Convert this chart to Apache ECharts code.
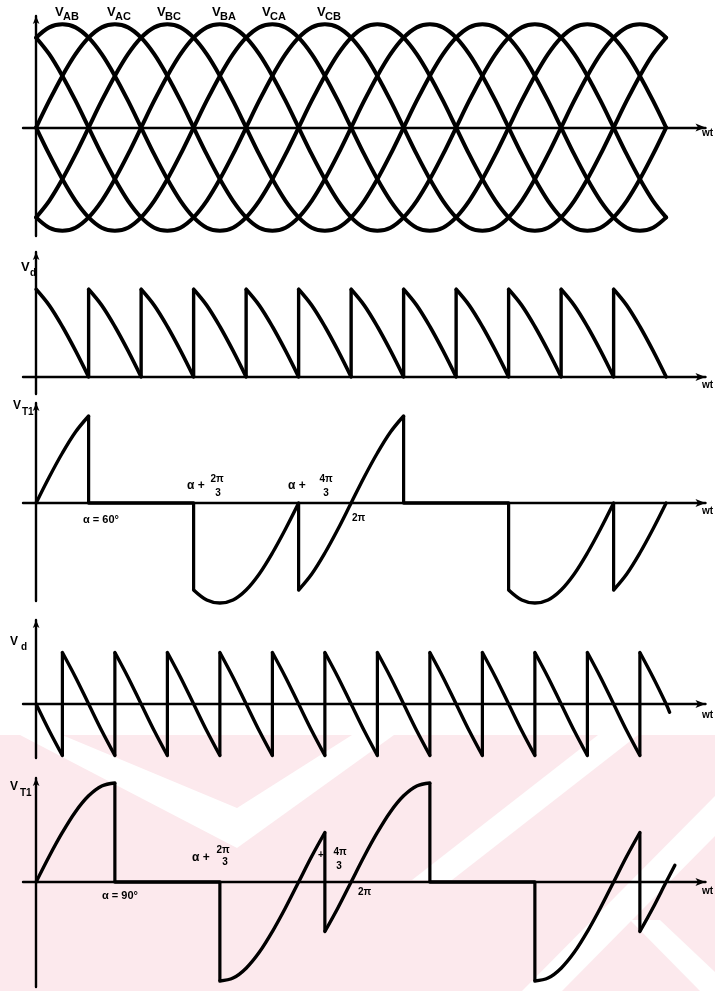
<!DOCTYPE html>
<html>
<head>
<meta charset="utf-8">
<script src="https://cdn.jsdelivr.net/npm/echarts@6/dist/echarts.min.js"></script>
<style>
html, body { margin: 0; padding: 0; background: #fff; }
#chart { width: 715px; height: 991px; }
</style>
</head>
<body>
<div id="chart"></div>
<script>
// Angles are electrical degrees of ωt; voltages are % of the line-voltage peak.
const STEP = 15;

// Line-to-line voltage over one cycle, every 15°, starting at a rising zero crossing
const lineCycle = [0, 26, 50, 71, 87, 97, 100, 97, 87, 71, 50, 26, 0, -26, -50, -71, -87, -97, -100, -97, -87, -71, -50, -26];
const phaseNames = ['AB', 'AC', 'BC', 'BA', 'CA', 'CB'];
const phaseRiseAngle = [-60, 0, 60, 120, 180, 240];
const sweepAngles = [0, 720];

// Output voltage vd, α = 60°: one 60° piece after every firing
const vd60Firing = [0, 60, 120, 180, 240, 300, 360, 420, 480, 540, 600, 660];
const vd60Piece = [87, 71, 50, 26, 0];

// Output voltage vd, α = 90°
const vd90Firing = [30, 90, 150, 210, 270, 330, 390, 450, 510, 570, 630, 690];
const vd90Piece = [50, 26, 0, -26, -50];
const vd90Head = [[0, 0], [15, -26], [30, -50]];
const vd90Tail = [[690, 50], [705, 26], [720, 0], [724, -8]];

// Thyristor T1 voltage, α = 60°
const vt1Alpha60 = [
  [[0, 0], [15, 26], [30, 50], [45, 71], [60, 87]],
  [[60, 0], [180, 0]],
  [[180, -87], [195, -97], [210, -100], [225, -97], [240, -87], [255, -71], [270, -50], [285, -26], [300, 0]],
  [[300, -87], [315, -71], [330, -50], [345, -26], [360, 0], [375, 26], [390, 50], [405, 71], [420, 87]],
  [[420, 0], [540, 0]],
  [[540, -87], [555, -97], [570, -100], [585, -97], [600, -87], [615, -71], [630, -50], [645, -26], [660, 0]],
  [[660, -87], [675, -71], [690, -50], [705, -26], [720, 0]]
];

// Thyristor T1 voltage, α = 90°
const vt1Alpha90 = [
  [[0, 0], [15, 26], [30, 50], [45, 71], [60, 87], [75, 97], [90, 100]],
  [[90, 0], [210, 0]],
  [[210, -100], [225, -97], [240, -87], [255, -71], [270, -50], [285, -26], [300, 0], [315, 26], [330, 50]],
  [[330, -50], [345, -26], [360, 0], [375, 26], [390, 50], [405, 71], [420, 87], [435, 97], [450, 100]],
  [[450, 0], [570, 0]],
  [[570, -100], [585, -97], [600, -87], [615, -71], [630, -50], [645, -26], [660, 0], [675, 26], [690, 50]],
  [[690, -50], [705, -26], [720, 0], [730, 17]]
];

// Panel frames: pixel box of each axis pair and value range of its y axis
const panels = [
  { top: 16,  height: 220, yMin: -105, yMax: 108 },
  { top: 252, height: 142, yMin: -17,  yMax: 124 },
  { top: 403, height: 198, yMin: -98,  yMax: 100 },
  { top: 620, height: 138, yMin: -52.4, yMax: 81.6 },
  { top: 778, height: 209, yMin: -106, yMax: 105 }
];
const X_MIN = -15, X_MAX = 765;

function cycleCurve(rise) {
  const pts = [];
  for (let a = sweepAngles[0]; a <= sweepAngles[1]; a += STEP) {
    const k = (((a - rise) / STEP) % lineCycle.length + lineCycle.length) % lineCycle.length;
    pts.push([a, lineCycle[k]]);
  }
  return pts;
}
function piecesFromShape(firing, shape) {
  return firing.map(f => shape.map((v, i) => [f + i * STEP, v]));
}
function jumpsBetween(pieces) {
  const out = [];
  for (let i = 0; i + 1 < pieces.length; i++) {
    const a = pieces[i][pieces[i].length - 1], b = pieces[i + 1][0];
    if (a[0] === b[0] && a[1] !== b[1]) out.push([a, b]);
  }
  return out;
}

const series = [];
function addCurve(panel, data, width) {
  series.push({
    type: 'line', xAxisIndex: panel, yAxisIndex: panel, data,
    symbol: 'none', smooth: 0.35, clip: false, silent: true,
    lineStyle: { color: '#000', width, cap: 'round', join: 'round' }
  });
}
function addEdge(panel, data, width) {
  series.push({
    type: 'line', xAxisIndex: panel, yAxisIndex: panel, data,
    symbol: 'none', smooth: false, clip: false, silent: true,
    lineStyle: { color: '#000', width, cap: 'butt' }
  });
}

// Panel 0: the six line voltages
phaseRiseAngle.forEach(r => addCurve(0, cycleCurve(r), 4));

// Panel 1: vd at α = 60°
const vd60 = piecesFromShape(vd60Firing, vd60Piece);
vd60.forEach(p => addCurve(1, p, 3.6));
vd60Firing.slice(1).forEach(f => addEdge(1, [[f, 0], [f, vd60Piece[0]]], 3.4));

// Panel 2: T1 voltage at α = 60°
vt1Alpha60.forEach(p => addCurve(2, p, 3.4));
jumpsBetween(vt1Alpha60).forEach(j => addEdge(2, j, 3.2));

// Panel 3: vd at α = 90°
const vd90 = [vd90Head].concat(piecesFromShape(vd90Firing.slice(0, -1), vd90Piece), [vd90Tail]);
vd90.forEach(p => addCurve(3, p, 3.4));
jumpsBetween(vd90).forEach(j => addEdge(3, j, 3.2));

// Panel 4: T1 voltage at α = 90°
vt1Alpha90.forEach(p => addCurve(4, p, 3.4));
jumpsBetween(vt1Alpha90).forEach(j => addEdge(4, j, 3.2));

const axisLineStyle = { color: '#000', width: 2.4 };
const grid = panels.map(p => ({ left: 23, width: 682.5, top: p.top, height: p.height }));
const xAxis = panels.map((p, i) => ({
  type: 'value', gridIndex: i, min: X_MIN, max: X_MAX,
  axisLine: { show: true, onZero: true, symbol: ['none', 'arrow'], symbolSize: [6, 10], lineStyle: axisLineStyle },
  axisTick: { show: false }, axisLabel: { show: false }, splitLine: { show: false }
}));
const yAxis = panels.map((p, i) => ({
  type: 'value', gridIndex: i, min: p.yMin, max: p.yMax,
  axisLine: { show: true, onZero: true, symbol: ['none', 'arrow'], symbolSize: [5, 8], lineStyle: axisLineStyle },
  axisTick: { show: false }, axisLabel: { show: false }, splitLine: { show: false }
}));

const FONT = '"Liberation Sans", "DejaVu Sans", sans-serif';
function txt(text, x, y, size, align) {
  return {
    type: 'text', x, y, silent: true, z: 10,
    style: { text, fill: '#000', font: 'bold ' + size + 'px ' + FONT, textAlign: align || 'left', textVerticalAlign: 'middle' }
  };
}

const labels = [];
// phase names over the line voltages
const phaseLabelX = [55, 107, 157, 212, 262, 317];
phaseNames.forEach((n, i) => {
  labels.push(txt('V', phaseLabelX[i], 12, 13));
  labels.push(txt(n, phaseLabelX[i] + 8, 17, 11));
});
// axis names
labels.push(txt('V', 21, 267, 13), txt('d', 30, 273, 10));
labels.push(txt('V', 13, 406, 12), txt('T1', 22, 412, 10));
labels.push(txt('V', 10, 642, 12), txt('d', 21, 647, 10));
labels.push(txt('V', 10, 787, 12), txt('T1', 20, 793, 10));
[133, 385, 511, 715, 891].forEach(y => labels.push(txt('wt', 702, y, 10)));
// firing-angle marks, α = 60°
labels.push(txt('α = 60°', 83, 520, 11));
labels.push(txt('α +', 187, 486, 12), txt('2π', 217, 479, 10, 'center'), txt('3', 218, 493, 10, 'center'));
labels.push(txt('α +', 288, 486, 12), txt('4π', 326, 479, 10, 'center'), txt('3', 326, 493, 10, 'center'));
labels.push(txt('2π', 352, 518, 10));
// firing-angle marks, α = 90°
labels.push(txt('α = 90°', 102, 896, 11));
labels.push(txt('α +', 192, 858, 12), txt('2π', 223, 850, 10, 'center'), txt('3', 225, 862, 10, 'center'));
labels.push(txt('+', 318, 855, 10), txt('4π', 340, 852, 10, 'center'), txt('3', 339, 866, 10, 'center'));
labels.push(txt('2π', 358, 892, 10));

// pale pink watermark behind the lower panels, crossed by white chevron bands
const PINK = '#fce9ed';
function band(points) {
  return { type: 'polygon', z: -4, silent: true, shape: { points }, style: { fill: '#fff' } };
}
const wm = [
  { type: 'rect', z: -5, silent: true, shape: { x: 0, y: 735, width: 715, height: 256 }, style: { fill: PINK } },
  band([[20, 735], [62, 735], [237, 808], [352, 735], [394, 735], [237, 848]]),
  band([[412, 880], [452, 880], [638, 735], [598, 735]]),
  band([[522, 991], [562, 991], [715, 836], [715, 796]]),
  band([[630, 920], [660, 920], [715, 972], [715, 991], [700, 991]])
];

const chart = echarts.init(document.getElementById('chart'), null, { renderer: 'canvas' });
chart.setOption({
  animation: false,
  backgroundColor: '#fff',
  grid, xAxis, yAxis, series,
  graphic: wm.concat(labels)
});
</script>
</body>
</html>
